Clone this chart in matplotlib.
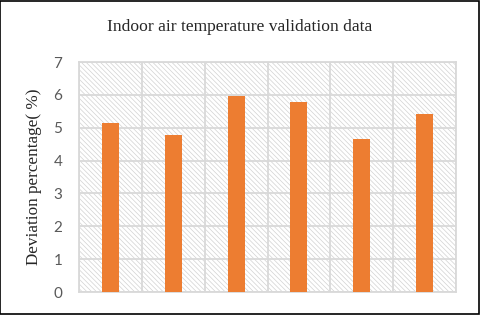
import matplotlib
matplotlib.use('Agg')
import matplotlib.pyplot as plt
from matplotlib.patches import Rectangle

# data
categories = ['1', '2', '3', '4', '5', '6']
deviation = [5.13, 4.79, 5.97, 5.79, 4.67, 5.43]
y_ticks = [0, 1, 2, 3, 4, 5, 6, 7]

plt.rcParams['hatch.linewidth'] = 0.5
plt.rcParams['hatch.color'] = '#d2d2d2'

fig = plt.figure(figsize=(4.8, 3.15), dpi=100)
ax = fig.add_axes([79 / 480, 1 - 292 / 315, 377 / 480, 230 / 315])

n = len(categories)
x = list(range(n))

# hatched background of the plot area
ax.add_patch(Rectangle((0, 0), 1, 1, transform=ax.transAxes,
                       facecolor='white', edgecolor='#d2d2d2',
                       hatch='\\' * 7, linewidth=0, zorder=0))

ax.bar(x, deviation, width=0.27, color='#ed7d31', zorder=3)

ax.set_xlim(-0.5, n - 0.5)
ax.set_ylim(0, 7)
ax.set_yticks(y_ticks)
ax.set_xticks([i - 0.5 for i in range(n + 1)])
ax.set_xticklabels([])
ax.tick_params(axis='both', length=0)
ax.tick_params(axis='y', labelsize=11, labelcolor='#595959', pad=12)
for lab in ax.get_yticklabels():
    lab.set_family('Lato')

ax.grid(True, color='#d9d9d9', linewidth=1.3, zorder=1)
ax.set_axisbelow(True)
for s in ax.spines.values():
    s.set_color('#d9d9d9')
    s.set_linewidth(1.3)

ax.set_ylabel('Deviation percentage( %)', family='Liberation Serif',
              fontsize=12.3, color='#262626', labelpad=8)
fig.text(0.5, 1 - 27 / 315, 'Indoor air temperature validation data',
         family='Liberation Serif', fontsize=12.6, color='#262626',
         ha='center', va='center')

# outer frame of the picture
fig.add_artist(Rectangle((0.001, 0.002), 0.997, 0.996, transform=fig.transFigure,
                         fill=False, edgecolor='black', linewidth=1.2))

fig.savefig('out.png', dpi=100)
